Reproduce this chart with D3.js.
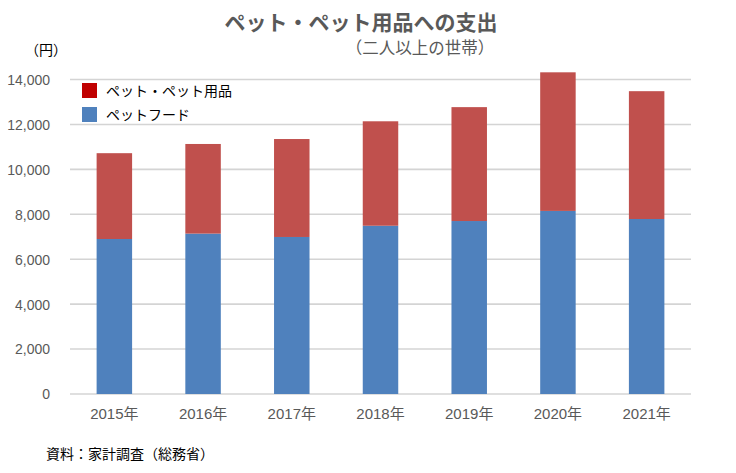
<!DOCTYPE html>
<html><head><meta charset="utf-8">
<script src="https://cdn.jsdelivr.net/npm/d3@7"></script>
<style>body{margin:0;background:#fff;} svg{display:block;}</style>
</head><body>
<svg id="c" width="736" height="473"></svg>
<script>
const years = ["2015年","2016年","2017年","2018年","2019年","2020年","2021年"];
const petFood = [6900, 7140, 6990, 7490, 7700, 8150, 7790];
const petGoods = [3820, 3990, 4360, 4650, 5070, 6170, 5690];
const yTicks = [0,2000,4000,6000,8000,10000,12000,14000];
const seriesNames = ["ペット・ペット用品","ペットフード"];

const svg = d3.select("#c");
const m = {l:70, r:45, t:79, b:79};
const W = 736, H = 473;
const x = d3.scaleBand().domain(years).range([m.l, W - m.r]).paddingInner(0.6).paddingOuter(0.3);
const y = d3.scaleLinear().domain([0,14000]).range([394, 79.5]);
const latin = "'Liberation Sans', Arial, 'Noto Sans CJK JP', sans-serif";
const jp = "'Noto Sans CJK JP', sans-serif";

// grid
svg.append("g").selectAll("line").data(yTicks).join("line")
  .attr("x1", m.l).attr("x2", 691)
  .attr("y1", d => y(d)).attr("y2", d => y(d))
  .attr("stroke", "#d4d4d4").attr("stroke-width", 1.6);

// y axis labels
const yAxis = d3.axisLeft(y).tickValues(yTicks).tickSize(0).tickPadding(0).tickFormat(d3.format(","));
const ya = svg.append("g").attr("transform", "translate(50,0)").call(yAxis);
ya.select(".domain").remove();
ya.selectAll("text").attr("font-family", latin).attr("font-size", 14).attr("fill", "#595959").attr("dy","0.35em");

// x axis labels
const xAxis = d3.axisBottom(x).tickSize(0).tickPadding(0);
const xa = svg.append("g").attr("transform", "translate(0,405)").call(xAxis);
xa.select(".domain").remove();
xa.selectAll("text").attr("font-family", latin).attr("font-size", 15).attr("fill", "#595959").attr("dy","0.95em");

// bars
const data = years.map((yr,i) => ({yr, food: petFood[i], goods: petGoods[i]}));
const stack = d3.stack().keys(["food","goods"])(data);
const colors = {food:"#4F81BD", goods:"#C0504D"};
svg.append("g").selectAll("g").data(stack).join("g")
  .attr("fill", s => colors[s.key])
  .selectAll("rect").data(s => s).join("rect")
  .attr("x", d => x(d.data.yr))
  .attr("width", x.bandwidth())
  .attr("y", d => y(d[1]))
  .attr("height", d => y(d[0]) - y(d[1]));

// legend
const leg = svg.append("g").attr("transform", "translate(82,83)");
const legColors = ["#C00000", "#4F81BD"];
seriesNames.forEach((n,i) => {
  const g = leg.append("g").attr("transform", `translate(0,${i*24})`);
  g.append("rect").attr("width",15).attr("height",15).attr("fill", legColors[i]);
  g.append("text").attr("x",24).attr("y",13).attr("font-family", jp).attr("font-size",14).attr("fill","#000").text(n);
});

// titles
svg.append("text").attr("x", 361).attr("y", 30).attr("text-anchor","middle")
  .attr("font-family", jp).attr("font-weight","bold").attr("font-size",21).attr("fill","#595959")
  .text("ペット・ペット用品への支出");
svg.append("text").attr("x", 420).attr("y", 54).attr("text-anchor","middle")
  .attr("font-family", jp).attr("font-size",16.5).attr("fill","#595959")
  .text("（二人以上の世帯）");
svg.append("text").attr("x", 46).attr("y", 55).attr("text-anchor","middle")
  .attr("font-family", jp).attr("font-size",14).attr("fill","#000")
  .text("（円）");
svg.append("text").attr("x", 46).attr("y", 459)
  .attr("font-family", jp).attr("font-size",14).attr("fill","#000")
  .text("資料：家計調査（総務省）");
</script>
</body></html>
